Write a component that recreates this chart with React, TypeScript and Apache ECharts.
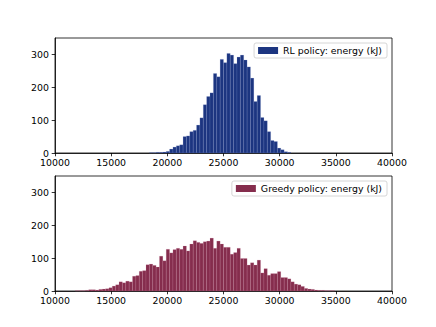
import React, { useEffect, useRef } from "react";
import * as echarts from "echarts";

// Histogram bins (kJ)
const BIN_WIDTH = 300;
const RL_FIRST_BIN = 18400;
const rlCounts = [
  1, 1, 2, 2, 3, 5, 12, 18, 22, 25, 50, 52, 65, 69, 85, 107, 147, 172, 183,
  242, 232, 285, 275, 303, 298, 272, 292, 298, 283, 262, 228, 157, 175, 108,
  98, 65, 38, 35, 15, 10, 4, 2,
];
const GREEDY_FIRST_BIN = 11800;
const greedyCounts = [
  1, 1, 1, 2, 4, 4, 3, 5, 6, 7, 10, 15, 19, 28, 25, 30, 28, 45, 47, 60, 62, 80,
  82, 78, 73, 106, 92, 127, 116, 126, 130, 127, 137, 122, 143, 153, 148, 145,
  150, 152, 161, 130, 152, 143, 133, 133, 112, 117, 130, 99, 99, 79, 86, 79,
  94, 55, 68, 48, 53, 53, 59, 41, 41, 37, 28, 21, 19, 14, 8, 6, 5, 3, 2, 2, 1,
  1, 1,
];
const xTicks = [10000, 15000, 20000, 25000, 30000, 35000, 40000];
const yTicks = [0, 100, 200, 300];
const RL_NAME = "RL policy: energy (kJ)";
const GREEDY_NAME = "Greedy policy: energy (kJ)";

const FONT = "DejaVu Sans";
const FS = 9.4;

function toData(first: number, counts: number[]) {
  return counts.map((c, i) => [first + i * BIN_WIDTH, first + (i + 1) * BIN_WIDTH, c]);
}

function makeRender(fill: string, edge: string) {
  return (params: any, api: any) => {
    const x0 = api.value(0);
    const x1 = api.value(1);
    const y = api.value(2);
    const p0 = api.coord([x0, y]);
    const p1 = api.coord([x1, 0]);
    return {
      type: "rect",
      shape: { x: p0[0], y: p0[1], width: p1[0] - p0[0], height: p1[1] - p0[1] },
      style: { fill, stroke: edge, lineWidth: 0.4 },
    };
  };
}

export default function App() {
  const ref = useRef<HTMLDivElement>(null);
  useEffect(() => {
    if (!ref.current) return;
    const chart = echarts.init(ref.current, null, { renderer: "svg" });
    const rlColor = "#1c3580";
    const grColor = "#852d4d";
    const xAxisCommon = {
      type: "value" as const,
      min: 10000,
      max: 40000,
      interval: 5000,
      splitLine: { show: false },
      axisLine: { show: true, lineStyle: { color: "#000", width: 0.8 } },
      axisTick: { show: true, length: 3.3, lineStyle: { color: "#000", width: 0.8 }, customValues: xTicks },
      axisLabel: {
        color: "#000",
        fontSize: FS,
        fontFamily: FONT,
        margin: 5,
        customValues: xTicks,
        formatter: (v: number) => String(v),
      },
    };
    const yAxisCommon = {
      type: "value" as const,
      min: 0,
      max: 350,
      interval: 50,
      splitLine: { show: false },
      axisLine: { show: true, lineStyle: { color: "#000", width: 0.8 } },
      axisTick: { show: true, length: 3.3, lineStyle: { color: "#000", width: 0.8 }, customValues: yTicks },
      axisLabel: {
        color: "#000",
        fontSize: FS,
        fontFamily: FONT,
        margin: 6,
        customValues: yTicks,
        formatter: (v: number) => String(v),
      },
    };
    const legendCommon = {
      orient: "vertical" as const,
      right: 49,
      itemWidth: 20,
      itemHeight: 7,
      icon: "rect",
      borderColor: "#cccccc",
      borderWidth: 0.8,
      borderRadius: 2,
      backgroundColor: "rgba(255,255,255,0.8)",
      padding: [3, 5, 3, 4],
      textStyle: { color: "#000", fontSize: FS, fontFamily: FONT },
      selectedMode: false,
    };
    chart.setOption({
      animation: false,
      backgroundColor: "#fff",
      grid: [
        { left: 55, right: 44, top: 38, height: 115, show: true, borderColor: "#000", borderWidth: 0.8, containLabel: false },
        { left: 55, right: 44, top: 176, height: 115, show: true, borderColor: "#000", borderWidth: 0.8, containLabel: false },
      ],
      xAxis: [
        { ...xAxisCommon, gridIndex: 0 },
        { ...xAxisCommon, gridIndex: 1 },
      ],
      yAxis: [
        { ...yAxisCommon, gridIndex: 0 },
        { ...yAxisCommon, gridIndex: 1 },
      ],
      legend: [
        { ...legendCommon, top: 43, data: [RL_NAME] },
        { ...legendCommon, top: 181, data: [GREEDY_NAME] },
      ],
      series: [
        {
          type: "custom",
          name: RL_NAME,
          xAxisIndex: 0,
          yAxisIndex: 0,
          itemStyle: { color: rlColor },
          encode: { x: [0, 1], y: 2 },
          data: toData(RL_FIRST_BIN, rlCounts),
          renderItem: makeRender(rlColor, "rgba(150,165,215,0.45)"),
        },
        {
          type: "custom",
          name: GREEDY_NAME,
          xAxisIndex: 1,
          yAxisIndex: 1,
          itemStyle: { color: grColor },
          encode: { x: [0, 1], y: 2 },
          data: toData(GREEDY_FIRST_BIN, greedyCounts),
          renderItem: makeRender(grColor, "rgba(215,150,175,0.45)"),
        },
      ],
    });
    return () => chart.dispose();
  }, []);
  return (
    <div
      ref={ref}
      style={{ position: "fixed", left: 0, top: 0, width: 436, height: 327 }}
    />
  );
}
